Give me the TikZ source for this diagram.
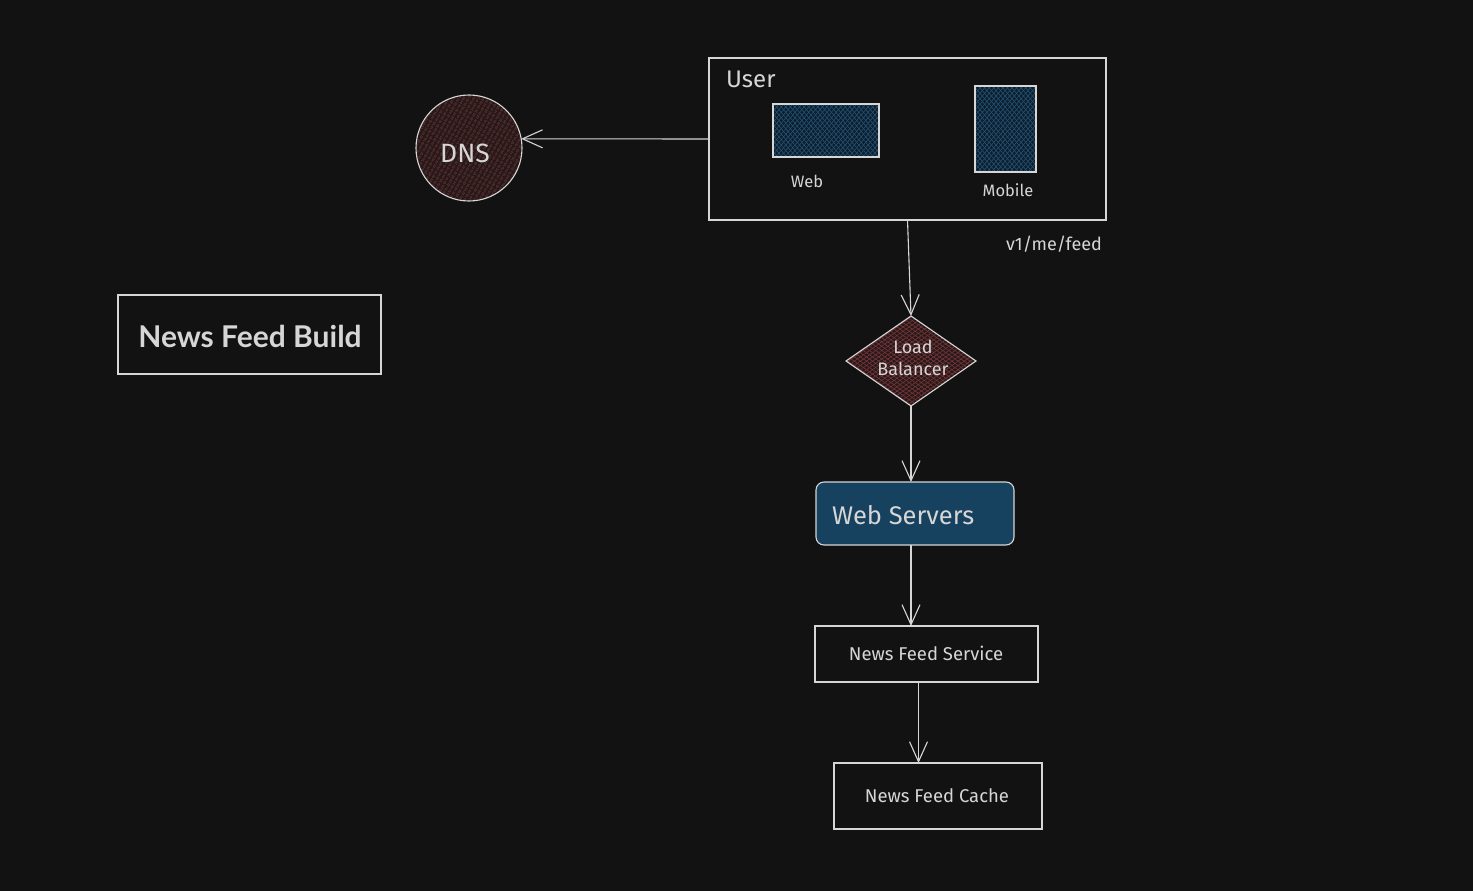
\documentclass[tikz,border=0pt]{standalone}
\usepackage{fontspec}
\setmainfont{Fira Sans}
\newfontfamily\titlefont{Lato}
\usetikzlibrary{arrows.meta,shapes.geometric,patterns.meta}
\definecolor{bg}{HTML}{121212}
\definecolor{ink}{HTML}{D6D6D6}
\definecolor{redbase}{HTML}{2A1819}
\definecolor{redline}{HTML}{74383B}
\definecolor{bluebase}{HTML}{0E1E2B}
\definecolor{blueline}{HTML}{22547A}
\definecolor{wsfill}{HTML}{16415F}
\tikzset{
  sk/.style={draw=ink, line width=1.1pt},
  box/.style={sk, rectangle, inner sep=0pt, outer sep=0pt},
  lbl/.style={text=ink, inner sep=0pt},
  arr/.style={draw=ink, line width=1.1pt, -{Straight Barb[length=20pt,width=18pt,line width=1.1pt]}},
  redhatch/.style={preaction={fill=redbase}, pattern={Lines[angle=60,distance=4pt,line width=0.7pt]}, pattern color=redline},
  redcross/.style={preaction={fill=redbase}, preaction={pattern={Lines[angle=-35,distance=3.5pt,line width=0.6pt]}, pattern color=redline}, pattern={Lines[angle=35,distance=3.5pt,line width=0.6pt]}, pattern color=redline},
  bluecross/.style={preaction={fill=bluebase}, preaction={pattern={Lines[angle=-50,distance=3.5pt,line width=0.6pt]}, pattern color=blueline}, pattern={Lines[angle=50,distance=3.5pt,line width=0.6pt]}, pattern color=blueline},
}
\begin{document}
\begin{tikzpicture}[x=1pt,y=-1pt]
\fill[bg] (0,0) rectangle (1473,891);
\useasboundingbox (0,0) rectangle (1473,891);

% title
\node[box, minimum width=263pt, minimum height=79pt] (title) at (249.5,334.5) {};
\node[lbl, font=\titlefont\bfseries\fontsize{30}{34}\selectfont] (titletext) at (250,336) {News Feed Build};

% DNS
\node[sk, circle, minimum size=106pt, inner sep=0pt, outer sep=0pt, redhatch] (dns) at (469,148) {};
\node[lbl, font=\fontsize{26.5}{30}\selectfont] (dnstext) at (465,153) {DNS};

% User box
\node[box, minimum width=397pt, minimum height=162pt] (user) at (907.5,139) {};
\node[lbl, font=\fontsize{24}{28}\selectfont, anchor=west] (usertext) at (726,79) {User};
\node[box, minimum width=106pt, minimum height=53pt, bluecross] (web) at (826,130.5) {};
\node[lbl, font=\fontsize{16.5}{20}\selectfont] (webtext) at (807,181) {Web};
\node[box, minimum width=61pt, minimum height=86pt, bluecross] (mobile) at (1005.5,129) {};
\node[lbl, font=\fontsize{16.5}{20}\selectfont] (mobiletext) at (1008,190) {Mobile};
\node[lbl, font=\fontsize{18}{21}\selectfont] (route) at (1054,244) {v1/me/feed};

% Load balancer
\node[sk, diamond, minimum width=130pt, minimum height=90pt, inner sep=0pt, outer sep=0pt, redcross] (lb) at (911,361) {};
\node[lbl, font=\fontsize{18}{22}\selectfont, align=center] (lbtext) at (913,358) {Load\\Balancer};

% Web servers
\node[sk, rectangle, rounded corners=8pt, fill=wsfill, minimum width=198pt, minimum height=63pt, inner sep=0pt, outer sep=0pt] (ws) at (915,513.5) {};
\node[lbl, font=\fontsize{25.5}{30}\selectfont, anchor=west] (wstext) at (832,515) {Web Servers};

% News feed service
\node[box, minimum width=223pt, minimum height=56pt] (nfs) at (926.5,654) {};
\node[lbl, font=\fontsize{18.5}{22}\selectfont] (nfstext) at (926,653) {News Feed Service};

% News feed cache
\node[box, minimum width=208pt, minimum height=66pt] (nfc) at (938,796) {};
\node[lbl, font=\fontsize{18.5}{22}\selectfont] (nfctext) at (937,796) {News Feed Cache};

% connectors
\draw[arr] (user.west) -- (dns.10);
\draw[arr] (user.south) -- (lb.north);
\draw[arr] (lb.south) -- (lb.south |- ws.north);
\draw[arr] (ws.south -| lb.south) -- (nfs.north -| lb.south);
\draw[arr] ([xshift=-8pt]nfs.south) -- ([xshift=-8pt]nfs.south |- nfc.north);
\end{tikzpicture}
\end{document}
